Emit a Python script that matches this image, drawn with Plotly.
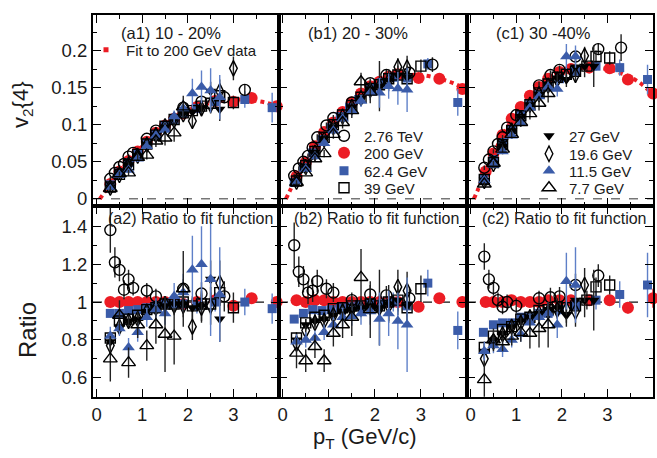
import plotly.graph_objects as go
from plotly.subplots import make_subplots

FONT = "Liberation Sans"

# ---------------- text ----------------
TOP_LABELS = ["(a1) 10 - 20%", "(b1) 20 - 30%", "(c1) 30 -40%"]
BOT_LABELS = ["(a2) Ratio to fit function", "(b2) Ratio to fit function", "(c2) Ratio to fit function"]

X_TICKS = [0, 1, 2, 3]
X_TICK_TEXT = ["0", "1", "2", "3"]
X_MINOR = [0.5, 1.5, 2.5, 3.5]
V2_TICKS = [0, 0.05, 0.1, 0.15, 0.2]
V2_TICK_TEXT = ["0", "0.05", "0.1", "0.15", "0.2"]
V2_MINOR = [0.025, 0.075, 0.125, 0.175, 0.225]
R_TICKS = [0.6, 0.8, 1.0, 1.2, 1.4]
R_TICK_TEXT = ["0.6", "0.8", "1", "1.2", "1.4"]
R_MINOR = [0.7, 0.9, 1.1, 1.3, 1.5]

# ---------------- fit to 200 GeV data (per centrality a, b, c) ----------------
FIT_X = [0.07, 0.15, 0.3, 0.5, 0.7, 0.9, 1.1, 1.3, 1.5, 1.7, 1.9, 2.2, 2.6, 3.0, 3.4, 3.7, 4.0]
FIT_V2 = [
    [0.0, 0.007, 0.020, 0.037, 0.051, 0.064, 0.077, 0.089, 0.099, 0.108, 0.116, 0.124, 0.131, 0.134, 0.133, 0.130, 0.125],
    [0.0, 0.010, 0.030, 0.050, 0.070, 0.089, 0.104, 0.117, 0.129, 0.140, 0.150, 0.160, 0.166, 0.167, 0.162, 0.156, 0.147],
    [0.0, 0.011, 0.034, 0.060, 0.085, 0.106, 0.123, 0.138, 0.150, 0.161, 0.169, 0.175, 0.177, 0.175, 0.167, 0.157, 0.141],
]

BES = [0.3, 0.5, 0.7, 0.9, 1.1, 1.3, 1.5, 1.7, 1.9, 2.1, 2.3, 2.5, 2.7]

# ---------------- 2.76 TeV ----------------
X_276 = [
    [0.3, 0.4, 0.5, 0.6, 0.7, 0.8, 1.1, 1.3, 1.9, 2.3, 2.8, 3.25],
    [0.25, 0.35, 0.45, 0.55, 0.65, 0.75, 0.95, 1.1, 1.5, 1.9, 2.25, 2.75, 3.25],
    [0.3, 0.4, 0.5, 0.6, 0.7, 0.8, 1.0, 1.5, 1.75, 1.95, 2.3, 2.8, 3.3],
]
V2_276 = [
    [0.027, 0.035, 0.043, 0.047, 0.057, 0.062, 0.081, 0.092, 0.123, 0.131, 0.137, 0.147],
    [0.031, 0.041, 0.050, 0.058, 0.069, 0.083, 0.099, 0.109, 0.130, 0.156, 0.167, 0.170, 0.181],
    [0.042, 0.053, 0.064, 0.074, 0.083, 0.096, 0.113, 0.153, 0.167, 0.174, 0.192, 0.202, 0.204],
]
V2E_276 = [
    [0.003, 0.003, 0.003, 0.003, 0.003, 0.003, 0.003, 0.004, 0.005, 0.006, 0.008, 0.008],
    [0.003, 0.003, 0.003, 0.003, 0.003, 0.004, 0.004, 0.004, 0.005, 0.006, 0.007, 0.008, 0.010],
    [0.003, 0.003, 0.003, 0.003, 0.003, 0.004, 0.004, 0.005, 0.006, 0.006, 0.007, 0.008, 0.018],
]
R_276 = [
    [1.38, 1.21, 1.17, 1.065, 1.12, 1.075, 1.06, 1.03, 1.07, 1.045, 1.03, None],
    [1.30, 1.16, 1.12, 1.05, 1.06, 1.11, 1.07, 1.05, 1.01, 1.04, 1.035, 1.02, None],
    [1.24, 1.12, 1.075, 1.01, 0.975, 1.0, 0.98, 1.02, 1.025, 1.03, 1.09, 1.14, None],
]
RE_276 = [
    [0.12, 0.08, 0.06, 0.05, 0.05, 0.04, 0.04, 0.04, 0.05, 0.06, 0.08, 0],
    [0.12, 0.08, 0.07, 0.06, 0.06, 0.06, 0.05, 0.05, 0.04, 0.05, 0.05, 0.06, 0],
    [0.07, 0.05, 0.04, 0.04, 0.04, 0.04, 0.04, 0.04, 0.05, 0.05, 0.06, 0.06, 0],
]

# ---------------- 200 GeV ----------------
X_200 = [
    [0.3, 0.5, 0.7, 0.9, 1.1, 1.3, 1.5, 1.7, 1.9, 2.2, 2.6, 3.0, 3.4, 3.95],
    [0.3, 0.5, 0.7, 0.9, 1.1, 1.3, 1.5, 1.7, 1.9, 2.1, 2.3, 2.5, 2.95, 3.4, 3.9],
    [0.33, 0.5, 0.7, 0.9, 1.1, 1.3, 1.5, 1.7, 1.95, 2.2, 2.6, 3.05, 3.45, 4.0],
]
V2_200 = [
    [0.020, 0.037, 0.051, 0.064, 0.077, 0.089, 0.099, 0.108, 0.115, 0.124, 0.132, 0.131, 0.136, 0.125],
    [0.030, 0.049, 0.071, 0.090, 0.103, 0.117, 0.130, 0.142, 0.152, 0.158, 0.165, 0.168, 0.163, 0.162, 0.148],
    [0.037, 0.061, 0.086, 0.108, 0.124, 0.139, 0.151, 0.162, 0.171, 0.175, 0.177, 0.176, 0.161, 0.142],
]
V2E_200 = [
    [0.001, 0.001, 0.001, 0.001, 0.001, 0.001, 0.001, 0.001, 0.001, 0.002, 0.002, 0.003, 0.003, 0.004],
    [0.001, 0.001, 0.001, 0.001, 0.001, 0.001, 0.001, 0.001, 0.001, 0.002, 0.002, 0.002, 0.003, 0.003, 0.004],
    [0.001, 0.001, 0.001, 0.001, 0.001, 0.001, 0.001, 0.001, 0.001, 0.002, 0.002, 0.003, 0.004, 0.006],
]
R_200 = [
    [1.0, 1.0, 1.0, 1.0, 1.0, 1.0, 1.0, 1.0, 0.99, 1.0, 1.01, 0.98, 1.02, 1.0],
    [1.01, 1.0, 1.01, 1.01, 1.0, 1.0, 1.0, 1.0, 1.0, 1.0, 1.0, 1.0, 0.975, 1.02, 1.0],
    [1.0, 1.0, 1.0, 1.01, 1.0, 1.0, 1.0, 1.01, 1.01, 1.01, 1.01, 1.01, 0.97, 1.02],
]
RE_200 = [
    [0.005, 0.005, 0.005, 0.005, 0.005, 0.005, 0.005, 0.005, 0.008, 0.01, 0.012, 0.015, 0.02, 0.03],
    [0.005, 0.005, 0.005, 0.005, 0.005, 0.005, 0.005, 0.005, 0.008, 0.01, 0.01, 0.012, 0.015, 0.02, 0.03],
    [0.005, 0.005, 0.005, 0.005, 0.005, 0.005, 0.005, 0.005, 0.008, 0.01, 0.012, 0.015, 0.03, 0.05],
]

# ---------------- 62.4 GeV ----------------
X_624 = [
    [0.3, 0.5, 0.7, 0.9, 1.1, 1.3, 1.5, 1.7, 1.9, 2.2, 2.6, 3.25, 3.85],
    [0.25, 0.45, 0.65, 0.85, 1.05, 1.25, 1.45, 1.65, 1.9, 2.15, 2.4, 2.7, 3.15, 3.8],
    [0.28, 0.5, 0.7, 0.9, 1.1, 1.3, 1.5, 1.7, 1.95, 2.3, 2.75, 3.27, 3.88],
]
V2_624 = [
    [0.019, 0.035, 0.049, 0.061, 0.075, 0.087, 0.098, 0.107, 0.115, 0.122, 0.131, 0.134, 0.123],
    [0.022, 0.042, 0.062, 0.080, 0.096, 0.111, 0.123, 0.134, 0.149, 0.157, 0.164, 0.163, 0.182, 0.130],
    [0.026, 0.053, 0.076, 0.094, 0.113, 0.127, 0.141, 0.151, 0.162, 0.172, 0.179, 0.177, 0.161],
]
V2E_624 = [
    [0.002, 0.002, 0.002, 0.002, 0.003, 0.003, 0.003, 0.004, 0.004, 0.005, 0.006, 0.011, 0.020],
    [0.002, 0.002, 0.002, 0.002, 0.003, 0.003, 0.003, 0.004, 0.004, 0.005, 0.006, 0.007, 0.008, 0.018],
    [0.002, 0.002, 0.002, 0.002, 0.003, 0.003, 0.003, 0.004, 0.004, 0.005, 0.006, 0.011, 0.020],
]
R_624 = [
    [0.94, 0.94, 0.955, 0.96, 0.97, 0.98, 0.99, 0.99, 0.99, 0.98, 1.0, 1.0, 0.965],
    [0.91, 0.94, 0.96, 0.955, 0.96, 0.97, 0.975, 0.98, 0.99, 0.99, 1.0, 0.98, 1.10, 0.85],
    [0.84, 0.88, 0.89, 0.89, 0.92, 0.92, 0.94, 0.94, 0.96, 0.98, 1.01, 1.04, 1.09],
]
RE_624 = [
    [0.02, 0.02, 0.02, 0.02, 0.02, 0.02, 0.02, 0.03, 0.03, 0.04, 0.05, 0.07, 0.08],
    [0.02, 0.02, 0.02, 0.02, 0.02, 0.02, 0.02, 0.03, 0.03, 0.04, 0.05, 0.06, 0.07, 0.10],
    [0.02, 0.02, 0.02, 0.02, 0.02, 0.02, 0.02, 0.03, 0.03, 0.04, 0.05, 0.07, 0.17],
]

# ---------------- 39 GeV ----------------
X_39 = [
    BES + [3.0],
    BES + [3.0],
    [0.3, 0.5, 0.7, 0.9, 1.1, 1.3, 1.5, 1.7, 1.9, 2.1, 2.3, 2.55, 2.75, 3.05],
]
V2_39 = [
    [0.016, 0.033, 0.046, 0.060, 0.074, 0.086, 0.098, 0.107, 0.116, 0.119, 0.125, 0.129, 0.139, 0.130],
    [0.024, 0.045, 0.064, 0.083, 0.100, 0.113, 0.126, 0.137, 0.149, 0.154, 0.162, 0.167, 0.162, 0.179],
    [0.026, 0.049, 0.073, 0.092, 0.112, 0.127, 0.143, 0.155, 0.164, 0.168, 0.172, 0.179, 0.192, 0.190],
]
V2E_39 = [
    [0.002, 0.002, 0.002, 0.003, 0.003, 0.003, 0.004, 0.004, 0.005, 0.005, 0.006, 0.007, 0.008, 0.009],
    [0.002, 0.002, 0.002, 0.003, 0.003, 0.003, 0.004, 0.004, 0.005, 0.005, 0.006, 0.007, 0.008, 0.009],
    [0.002, 0.002, 0.002, 0.003, 0.003, 0.003, 0.004, 0.004, 0.005, 0.005, 0.006, 0.007, 0.008, 0.009],
]
R_39 = [
    [0.81, 0.90, 0.91, 0.93, 0.96, 0.97, 0.99, 0.99, 1.0, 0.98, 0.99, 0.99, 1.05, 0.97],
    [0.81, 0.89, 0.92, 0.93, 0.965, 0.97, 0.98, 0.98, 0.99, 0.98, 1.0, 1.01, 0.97, 1.07],
    [0.76, 0.82, 0.855, 0.87, 0.91, 0.92, 0.955, 0.96, 0.975, 0.97, 0.98, 1.01, 1.08, 1.09],
]
RE_39 = [
    [0.03, 0.02, 0.02, 0.02, 0.02, 0.03, 0.03, 0.03, 0.04, 0.04, 0.05, 0.06, 0.07, 0.08],
    [0.03, 0.02, 0.02, 0.02, 0.02, 0.03, 0.03, 0.03, 0.04, 0.04, 0.05, 0.06, 0.07, 0.07],
    [0.03, 0.02, 0.02, 0.02, 0.02, 0.02, 0.03, 0.03, 0.03, 0.04, 0.04, 0.05, 0.05, 0.05],
]

# ---------------- 27 GeV ----------------
X_27 = [BES, BES, BES]
V2_27 = [
    [0.016, 0.032, 0.046, 0.058, 0.073, 0.086, 0.097, 0.107, 0.115, 0.117, 0.123, 0.145, 0.121],
    [0.024, 0.044, 0.063, 0.081, 0.097, 0.111, 0.124, 0.136, 0.147, 0.152, 0.160, 0.167, 0.164],
    [0.025, 0.048, 0.071, 0.092, 0.111, 0.127, 0.141, 0.155, 0.163, 0.161, 0.178, 0.179, 0.179],
]
V2E_27 = [
    [0.002, 0.002, 0.003, 0.003, 0.003, 0.004, 0.004, 0.005, 0.006, 0.008, 0.010, 0.013, 0.016],
    [0.002, 0.002, 0.003, 0.003, 0.003, 0.004, 0.004, 0.005, 0.006, 0.034, 0.015, 0.013, 0.016],
    [0.002, 0.002, 0.003, 0.003, 0.003, 0.004, 0.004, 0.005, 0.006, 0.010, 0.012, 0.015, 0.028],
]
R_27 = [
    [0.79, 0.87, 0.90, 0.91, 0.95, 0.97, 0.98, 0.99, 0.99, 0.97, 0.98, 1.12, 0.91],
    [0.80, 0.88, 0.90, 0.91, 0.93, 0.95, 0.96, 0.97, 0.98, 0.97, 0.99, 1.01, 0.98],
    [0.74, 0.80, 0.835, 0.87, 0.90, 0.92, 0.94, 0.96, 0.97, 0.93, 1.01, 1.01, 1.01],
]
RE_27 = [
    [0.03, 0.03, 0.03, 0.03, 0.03, 0.03, 0.04, 0.04, 0.05, 0.06, 0.08, 0.10, 0.12],
    [0.03, 0.03, 0.03, 0.03, 0.03, 0.03, 0.04, 0.04, 0.05, 0.20, 0.10, 0.08, 0.10],
    [0.04, 0.03, 0.03, 0.03, 0.03, 0.03, 0.04, 0.04, 0.05, 0.06, 0.07, 0.09, 0.16],
]

# ---------------- 19.6 GeV ----------------
X_196 = [BES + [3.0], BES, BES[:12]]
V2_196 = [
    [0.015, 0.032, 0.046, 0.058, 0.073, 0.086, 0.098, 0.106, 0.114, 0.105, 0.122, 0.127, 0.145, 0.176],
    [0.023, 0.043, 0.062, 0.080, 0.097, 0.111, 0.124, 0.136, 0.147, 0.152, 0.159, 0.178, 0.177],
    [0.024, 0.047, 0.071, 0.092, 0.109, 0.127, 0.141, 0.153, 0.161, 0.166, 0.167, 0.193],
]
V2E_196 = [
    [0.002, 0.003, 0.003, 0.003, 0.004, 0.004, 0.005, 0.005, 0.006, 0.008, 0.010, 0.012, 0.016, 0.016],
    [0.002, 0.003, 0.003, 0.003, 0.004, 0.004, 0.005, 0.005, 0.006, 0.008, 0.010, 0.012, 0.016],
    [0.002, 0.003, 0.003, 0.003, 0.004, 0.004, 0.005, 0.005, 0.006, 0.008, 0.010, 0.012],
]
R_196 = [
    [0.77, 0.87, 0.90, 0.91, 0.95, 0.97, 0.99, 0.98, 0.98, 0.87, 0.97, 0.98, 1.10, None],
    [0.78, 0.85, 0.89, 0.90, 0.93, 0.95, 0.96, 0.97, 0.98, 0.97, 0.98, 1.08, 1.06],
    [0.70, 0.79, 0.83, 0.87, 0.89, 0.92, 0.94, 0.95, 0.96, 0.96, 0.95, 1.09],
]
RE_196 = [
    [0.04, 0.03, 0.03, 0.03, 0.03, 0.04, 0.04, 0.05, 0.06, 0.07, 0.08, 0.10, 0.12, 0],
    [0.04, 0.03, 0.03, 0.03, 0.03, 0.04, 0.04, 0.05, 0.05, 0.07, 0.08, 0.09, 0.10],
    [0.04, 0.03, 0.03, 0.03, 0.03, 0.04, 0.04, 0.05, 0.05, 0.07, 0.08, 0.09],
]

# ---------------- 11.5 GeV ----------------
X_115 = [BES, BES, BES[:11]]
V2_115 = [
    [0.016, 0.032, 0.039, 0.054, 0.071, 0.085, 0.093, 0.111, 0.122, 0.142, 0.151, 0.146, 0.137],
    [0.024, 0.040, 0.057, 0.075, 0.092, 0.108, 0.119, 0.132, 0.143, 0.143, 0.152, 0.149, 0.147],
    [0.025, 0.046, 0.064, 0.085, 0.102, 0.123, 0.138, 0.151, 0.148, 0.192, 0.192],
]
V2E_115 = [
    [0.002, 0.003, 0.004, 0.004, 0.005, 0.006, 0.007, 0.008, 0.012, 0.020, 0.022, 0.030, 0.030],
    [0.002, 0.003, 0.004, 0.004, 0.005, 0.006, 0.007, 0.008, 0.010, 0.020, 0.017, 0.022, 0.030],
    [0.002, 0.003, 0.003, 0.004, 0.004, 0.005, 0.006, 0.007, 0.010, 0.017, 0.015],
]
R_115 = [
    [0.82, 0.86, 0.76, 0.84, 0.92, 0.96, 0.94, 1.03, 1.05, 1.17, 1.20, 1.12, 1.04],
    [0.79, 0.80, 0.81, 0.84, 0.88, 0.92, 0.925, 0.94, 0.95, 0.91, 0.94, 0.90, 0.88],
    [0.74, 0.77, 0.75, 0.80, 0.83, 0.89, 0.92, 0.94, 0.88, 1.11, 1.09],
]
RE_115 = [
    [0.05, 0.04, 0.05, 0.05, 0.05, 0.06, 0.06, 0.07, 0.10, 0.18, 0.20, 0.30, 0.25],
    [0.04, 0.04, 0.04, 0.04, 0.04, 0.05, 0.05, 0.06, 0.07, 0.14, 0.12, 0.15, 0.25],
    [0.05, 0.04, 0.04, 0.04, 0.04, 0.05, 0.05, 0.06, 0.07, 0.15, 0.20],
]

# ---------------- 7.7 GeV ----------------
X_77 = [BES[:9], BES[:9], BES[:8]]
V2_77 = [
    [0.014, 0.034, 0.035, 0.056, 0.059, 0.078, 0.082, 0.089, 0.124],
    [0.022, 0.035, 0.054, 0.061, 0.087, 0.103, 0.119, 0.158, 0.144],
    [0.020, 0.048, 0.067, 0.087, 0.103, 0.115, 0.129, 0.142],
]
V2E_77 = [
    [0.003, 0.003, 0.004, 0.005, 0.006, 0.008, 0.010, 0.012, 0.015],
    [0.003, 0.003, 0.004, 0.005, 0.006, 0.008, 0.010, 0.012, 0.015],
    [0.003, 0.003, 0.004, 0.005, 0.006, 0.008, 0.010, 0.012],
]
R_77 = [
    [0.70, 0.93, 0.68, 0.88, 0.77, 0.88, 0.83, 0.82, 1.07],
    [0.73, 0.69, 0.765, 0.69, 0.835, 0.88, 0.92, 1.13, 0.96],
    [0.59, 0.80, 0.79, 0.82, 0.84, 0.835, 0.86, 0.88],
]
RE_77 = [
    [0.12, 0.08, 0.08, 0.07, 0.08, 0.10, 0.20, 0.15, 0.20],
    [0.08, 0.06, 0.06, 0.06, 0.07, 0.07, 0.10, 0.15, 0.15],
    [0.10, 0.06, 0.05, 0.05, 0.05, 0.08, 0.10, 0.12],
]

NAMES = ["2.76 TeV", "200 GeV", "62.4 GeV", "39 GeV", "27 GeV", "19.6 GeV", "11.5 GeV", "7.7 GeV"]

RED = "#ec1c24"
BLUE = "#3b5ca9"
BLUE_ERR = "#5f80c8"

# style: symbol, size, fill color, outline color, error color, legend id
STYLE = {
    "2.76 TeV": ("circle-open", 11, "black", "black", "#222222", "legend2"),
    "200 GeV": ("circle", 12, RED, RED, RED, "legend3"),
    "62.4 GeV": ("square", 9, BLUE, BLUE, BLUE_ERR, "legend4"),
    "39 GeV": ("square-open", 10, "black", "black", "#222222", "legend5"),
    "27 GeV": ("triangle-down", 10, "black", "black", "#222222", "legend6"),
    "19.6 GeV": ("diamond-tall-open", 11, "black", "black", "#222222", "legend7"),
    "11.5 GeV": ("triangle-up", 11, BLUE, BLUE, BLUE_ERR, "legend8"),
    "7.7 GeV": ("triangle-up-open", 12, "black", "black", "#222222", "legend9"),
}
DATA = {
    "2.76 TeV": (X_276, V2_276, V2E_276, R_276, RE_276),
    "200 GeV": (X_200, V2_200, V2E_200, R_200, RE_200),
    "62.4 GeV": (X_624, V2_624, V2E_624, R_624, RE_624),
    "39 GeV": (X_39, V2_39, V2E_39, R_39, RE_39),
    "27 GeV": (X_27, V2_27, V2E_27, R_27, RE_27),
    "19.6 GeV": (X_196, V2_196, V2E_196, R_196, RE_196),
    "11.5 GeV": (X_115, V2_115, V2E_115, R_115, RE_115),
    "7.7 GeV": (X_77, V2_77, V2E_77, R_77, RE_77),
}
DRAW_ORDER = ["200 GeV", "62.4 GeV", "2.76 TeV", "39 GeV", "27 GeV", "19.6 GeV", "11.5 GeV", "7.7 GeV"]

# ---------------- figure ----------------
W, H = 657, 458
fig = make_subplots(rows=2, cols=3, horizontal_spacing=0, vertical_spacing=0)

# fit lines (top row)
for p in range(3):
    fig.add_trace(go.Scatter(
        x=FIT_X, y=FIT_V2[p], mode="lines", line=dict(color=RED, width=4, dash="dot", shape="spline"),
        showlegend=False, hoverinfo="skip", cliponaxis=False), row=1, col=p + 1)

# legend-only entry for the fit
fig.add_trace(go.Scatter(
    x=[None], y=[None], mode="markers", name="Fit to 200 GeV data",
    marker=dict(symbol="square", size=5, color=RED), legend="legend", showlegend=True), row=1, col=1)

for name in DRAW_ORDER:
    sym, size, fill, outline, ecol, leg = STYLE[name]
    X, V2, V2E, R, RE = DATA[name]
    open_sym = sym.endswith("open")
    marker = dict(symbol=sym, size=size, color=fill,
                  line=dict(color=outline, width=1.4 if open_sym else 0))
    for p in range(3):
        fig.add_trace(go.Scatter(
            x=X[p], y=V2[p], mode="markers", name=name, marker=marker,
            error_y=dict(type="data", array=V2E[p], color=ecol, thickness=1.4, width=0),
            showlegend=(p == 0), legend=leg, cliponaxis=False), row=1, col=p + 1)
        fig.add_trace(go.Scatter(
            x=X[p], y=R[p], mode="markers", name=name, marker=marker,
            error_y=dict(type="data", array=RE[p], color=ecol, thickness=1.4, width=0),
            showlegend=False, legend=leg, cliponaxis=False), row=2, col=p + 1)

# ---------------- axes ----------------
XD = [[93 / W, 279 / W], [279 / W, 467 / W], [467 / W, 653 / W]]
YD_TOP = [1 - 205.5 / H, 1 - 15 / H]
YD_BOT = [1 - 396.7 / H, 1 - 205.5 / H]

tickfont = dict(size=18.5, family=FONT, color="#1a1a1a")
common = dict(showline=True, linewidth=2, linecolor="black", mirror="allticks", ticks="inside",
              ticklen=8, tickwidth=1.4, tickcolor="black", showgrid=False, zeroline=False,
              tickfont=tickfont, tickmode="array", automargin=False)

for p in range(3):
    for row in (1, 2):
        idx = p + 1 + (row - 1) * 3
        xname = "xaxis" if idx == 1 else f"xaxis{idx}"
        yname = "yaxis" if idx == 1 else f"yaxis{idx}"
        xa = dict(common, domain=XD[p], range=[-0.08, 4.0], tickvals=X_TICKS, ticktext=X_TICK_TEXT,
                  showticklabels=(row == 2),
                  minor=dict(tickmode="array", tickvals=X_MINOR, ticks="inside", ticklen=4,
                             tickwidth=1.2, tickcolor="black", showgrid=False))
        if row == 1:
            ya = dict(common, domain=YD_TOP, range=[-0.009, 0.248], tickvals=V2_TICKS, ticktext=V2_TICK_TEXT,
                      showticklabels=(p == 0),
                      minor=dict(tickmode="array", tickvals=V2_MINOR, ticks="inside", ticklen=4,
                                 tickwidth=1.2, tickcolor="black", showgrid=False))
        else:
            ya = dict(common, domain=YD_BOT, range=[0.5, 1.51], tickvals=R_TICKS, ticktext=R_TICK_TEXT,
                      showticklabels=(p == 0),
                      minor=dict(tickmode="array", tickvals=R_MINOR, ticks="inside", ticklen=4,
                                 tickwidth=1.2, tickcolor="black", showgrid=False))
        fig.layout[xname].update(xa)
        fig.layout[yname].update(ya)

# dashed reference lines
for p in range(3):
    xr_top = "x" if p == 0 else f"x{p + 1}"
    yr_top = "y" if p == 0 else f"y{p + 1}"
    fig.add_shape(type="line", xref=f"{xr_top} domain", yref=yr_top, x0=0, x1=1, y0=0, y1=0,
                  line=dict(color="#333333", width=1, dash="dash"), layer="below")
    fig.add_shape(type="line", xref=f"x{p + 4} domain", yref=f"y{p + 4}", x0=0, x1=1, y0=1, y1=1,
                  line=dict(color="#111111", width=1.2, dash="dash"), layer="below")

# ---------------- annotations ----------------
ann = []
lbl_font = dict(size=16.5, family=FONT, color="#1a1a1a")
top_x = [119, 306, 494]
bot_x = [106, 292, 480]
for p in range(3):
    ann.append(dict(text=TOP_LABELS[p], x=top_x[p] / W, y=1 - 33 / H, xref="paper", yref="paper",
                    xanchor="left", yanchor="middle", showarrow=False, font=lbl_font))
    ann.append(dict(text=BOT_LABELS[p], x=bot_x[p] / W, y=1 - 218 / H, xref="paper", yref="paper",
                    xanchor="left", yanchor="middle", showarrow=False, font=dict(lbl_font, size=16)))
title_font = dict(size=22, family=FONT, color="#1a1a1a")
ann.append(dict(text="v<sub>2</sub>{4}", x=22 / W, y=1 - 105 / H, xref="paper", yref="paper",
                textangle=-90, xanchor="center", yanchor="middle", showarrow=False, font=title_font))
ann.append(dict(text="Ratio", x=27 / W, y=1 - 330 / H, xref="paper", yref="paper",
                textangle=-90, xanchor="center", yanchor="middle", showarrow=False, font=dict(title_font, size=24)))
ann.append(dict(text="p<sub>T</sub> (GeV/c)", x=365 / W, y=1 - 438 / H, xref="paper", yref="paper",
                xanchor="center", yanchor="middle", showarrow=False, font=title_font))

# ---------------- legends ----------------
def leg(xpx, ypx):
    return dict(x=xpx / W, y=1 - ypx / H, xanchor="left", yanchor="middle", xref="paper", yref="paper",
                bgcolor="rgba(0,0,0,0)", borderwidth=0, itemwidth=30, tracegroupgap=0,
                font=dict(size=15, family=FONT, color="#1a1a1a"))

fig.update_layout(
    width=W, height=H, margin=dict(l=0, r=0, t=0, b=0),
    paper_bgcolor="white", plot_bgcolor="white",
    font=dict(family=FONT, color="#1a1a1a"),
    annotations=ann, showlegend=True,
    legend=leg(86, 50),
    legend2=leg(324, 136), legend3=leg(324, 153), legend4=leg(324, 171), legend5=leg(324, 188),
    legend6=leg(529, 136), legend7=leg(529, 154), legend8=leg(529, 171), legend9=leg(529, 188),
)

fig.write_html("out.html", config={"displayModeBar": False},
               post_script="document.body.style.margin='0';document.body.style.padding='0';")
